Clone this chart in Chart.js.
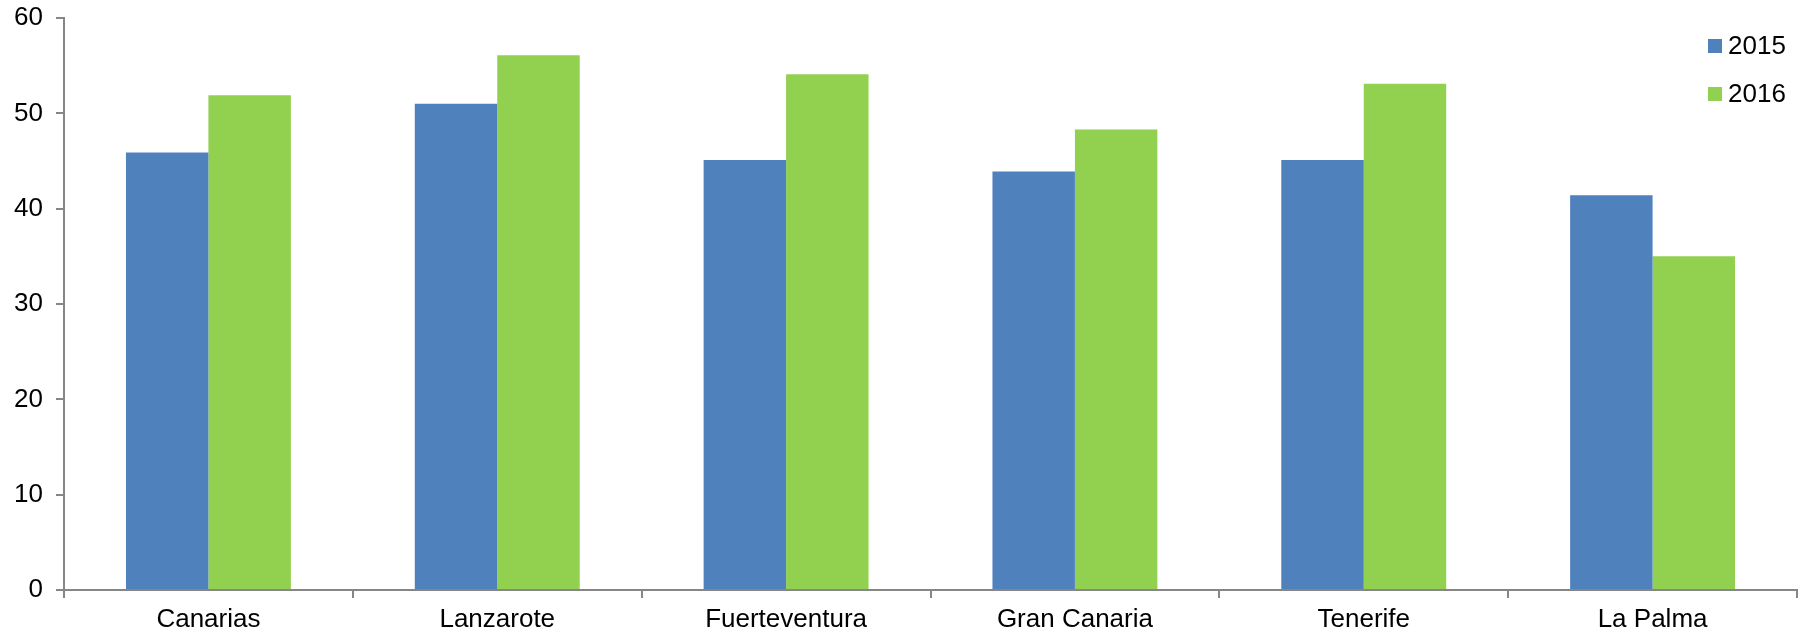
<!DOCTYPE html>
<html lang="es">
<head>
<meta charset="UTF-8">
<title>Canarias 2015-2016</title>
<script src="https://cdn.jsdelivr.net/npm/chart.js"></script>
<style>
  html, body { margin: 0; padding: 0; background: #fff; }
  #wrap { width: 1808px; height: 633px; position: relative; }
</style>
</head>
<body>
<div id="wrap"><canvas id="barChart"></canvas></div>
<script>
const islands = ['Canarias', 'Lanzarote', 'Fuerteventura', 'Gran Canaria', 'Tenerife', 'La Palma'];
const values2015 = [45.9, 51.0, 45.1, 43.9, 45.1, 41.4];
const values2016 = [51.9, 56.1, 54.1, 48.3, 53.1, 35.0];
const yTicks = [0, 10, 20, 30, 40, 50, 60];

const axisGray = '#868686';
const fontFamily = '"Liberation Sans", Arial, sans-serif';
const fontSize = 26;

// legend drawn inside the plot, top right, like the original
const insideLegend = {
  id: 'insideLegend',
  afterDraw(chart) {
    const ctx = chart.ctx;
    const x = 1708, y0 = 46, step = 48, box = 14;
    ctx.save();
    ctx.font = fontSize + 'px ' + fontFamily;
    ctx.textBaseline = 'middle';
    chart.data.datasets.forEach((ds, i) => {
      const y = y0 + i * step;
      ctx.fillStyle = ds.backgroundColor;
      ctx.fillRect(x, y - box / 2, box, box);
      ctx.fillStyle = '#000';
      ctx.fillText(ds.label, x + box + 6, y + 1);
    });
    ctx.restore();
  }
};

const ctx = document.getElementById('barChart').getContext('2d');
new Chart(ctx, {
  type: 'bar',
  data: {
    labels: islands,
    datasets: [
      { label: '2015', data: values2015, backgroundColor: '#4F81BD', borderWidth: 0 },
      { label: '2016', data: values2016, backgroundColor: '#92D050', borderWidth: 0 }
    ]
  },
  options: {
    responsive: true,
    maintainAspectRatio: false,
    devicePixelRatio: 1,
    animation: false,
    layout: { padding: { left: 0, right: 11, top: 18, bottom: 0 } },
    datasets: { bar: { barPercentage: 1, categoryPercentage: 0.571 } },
    plugins: {
      legend: { display: false },
      tooltip: { enabled: false }
    },
    scales: {
      x: {
        afterFit(axis) { axis.height = 43; },
        grid: {
          display: true,
          offset: true,
          drawOnChartArea: false,
          drawTicks: true,
          tickLength: 8,
          color: axisGray,
          lineWidth: 2
        },
        border: { display: true, color: axisGray, width: 2 },
        ticks: { color: '#000', padding: 6, font: { family: fontFamily, size: fontSize } }
      },
      y: {
        min: 0,
        max: 60,
        afterFit(axis) {
          axis.width = 64;
          axis.paddingTop = 0;
          axis.paddingBottom = 0;
        },
        afterBuildTicks(axis) { axis.ticks = yTicks.map(v => ({ value: v })); },
        grid: {
          drawOnChartArea: false,
          drawTicks: true,
          tickLength: 8,
          color: axisGray,
          lineWidth: 2
        },
        border: { display: true, color: axisGray, width: 2 },
        ticks: { color: '#000', padding: 13, font: { family: fontFamily, size: fontSize } }
      }
    }
  },
  plugins: [insideLegend]
});
</script>
</body>
</html>
